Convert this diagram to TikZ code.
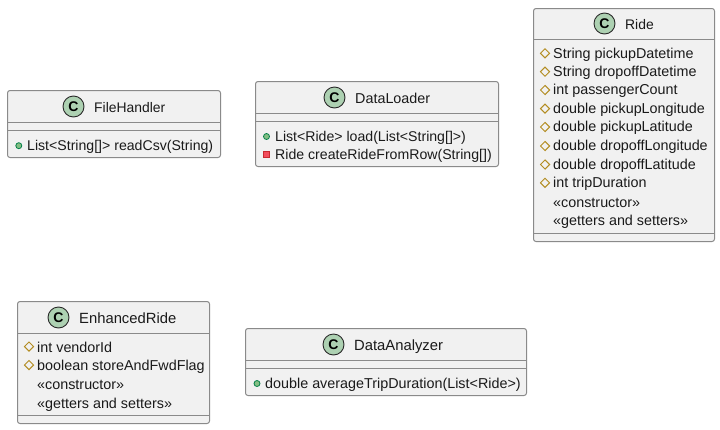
\documentclass[tikz,border=0pt]{standalone}
\usepackage{fontspec}
\setmainfont{Liberation Sans}
\definecolor{boxfill}{HTML}{F1F1F1}
\definecolor{boxline}{HTML}{8A8A8A}
\definecolor{spotfill}{HTML}{ADD1B2}
\definecolor{spotline}{HTML}{2B2B2B}
\definecolor{pubc}{HTML}{84BE84}
\definecolor{publ}{HTML}{038048}
\definecolor{protl}{HTML}{B38D22}
\definecolor{privc}{HTML}{F24D5C}
\definecolor{privl}{HTML}{C82930}
\definecolor{ink}{HTML}{1A1A1A}
\usetikzlibrary{shapes.geometric}
\tikzset{
  x=1pt,y=-1pt,
  classbox/.style={draw=boxline,fill=boxfill,line width=1pt,rounded corners=2.5pt},
  divider/.style={draw=boxline,line width=1pt},
  spot/.style={circle,draw=spotline,fill=spotfill,line width=.9pt,minimum size=21pt,inner sep=0pt,font=\fontsize{14}{14}\selectfont\bfseries},
  title/.style={anchor=base west,inner sep=0pt,font=\fontsize{14.8}{15}\selectfont,text=ink},
  midtitle/.style={anchor=base west,inner sep=0pt,font=\fontsize{14.35}{15}\selectfont,text=ink},
  shorttitle/.style={anchor=base west,inner sep=0pt,font=\fontsize{13.9}{15}\selectfont,text=ink},
  member/.style={anchor=base west,inner sep=0pt,font=\fontsize{14.35}{15}\selectfont,text=ink},
  tightmember/.style={anchor=base west,inner sep=0pt,font=\fontsize{14.12}{15}\selectfont,text=ink},
  pubdot/.style={circle,draw=publ,fill=pubc,line width=.8pt,minimum size=6pt,inner sep=0pt},
  protdia/.style={diamond,draw=protl,fill=none,line width=1pt,minimum size=9.5pt,inner sep=0pt},
  privsq/.style={rectangle,draw=privl,fill=privc,line width=.8pt,minimum size=6pt,inner sep=0pt},
}
\newcommand{\classframe}[6]{% x1 y1 x2 y2 head line2
  \path[classbox] (#1,#2) rectangle (#3,#4);
  \path[divider] (#1,#5) -- (#3,#5);
  \path[divider] (#1,#6) -- (#3,#6);
}
\begin{document}
\begin{tikzpicture}
\useasboundingbox (0,0) rectangle (720,429);
\fill[white] (0,0) rectangle (720,429);

% FileHandler
\classframe{7.5}{90.5}{220.5}{157.5}{122.5}{130.5}
\node[spot] (fhs) at (73.5,106.5) {C};
\node[shorttitle] (fht) at (94,112) {FileHandler};
\node[pubdot] (fhd1) at (18.8,145.7) {};
\node[tightmember] (fhm1) at (27,150.5) {List<String[]> readCsv(String)};

% DataLoader
\classframe{255.5}{81.5}{498.5}{166.5}{113.5}{121.5}
\node[spot] (dls) at (334.5,97.5) {C};
\node[midtitle] (dlt) at (355,103) {DataLoader};
\node[pubdot] (dld1) at (266.5,136.5) {};
\node[tightmember] (dlm1) at (275,141.5) {List<Ride> load(List<String[]>)};
\node[privsq] (dld2) at (266.3,154.4) {};
\node[tightmember] (dlm2) at (275,159.5) {Ride createRideFromRow(String[])};

% Ride
\classframe{533.5}{8.5}{714.5}{241.5}{39.5}{233.5}
\node[spot] (ris) at (604.5,23.5) {C};
\node[shorttitle] (rit) at (625,29) {Ride};
\foreach \y/\t in {53.3/String pickupDatetime,71.7/String dropoffDatetime,90/int passengerCount,108.6/double pickupLongitude,127/double pickupLatitude,146/double dropoffLongitude,164.5/double dropoffLatitude,182.8/int tripDuration}{
  \node[protdia] at (545,\y) {};
  \node[member] at (553,\y+4.8) {\t};
}
\node[member] (rim1) at (553,207.3) {«constructor»};
\node[member] (rim2) at (553,225.8) {«getters and setters»};

% EnhancedRide
\classframe{17.5}{301.5}{209.5}{423.5}{333.5}{415.5}
\node[spot] (ers) at (58.5,317.5) {C};
\node[title] (ert) at (79,323) {EnhancedRide};
\node[protdia] (erd1) at (29,346.5) {};
\node[member] (erm1) at (37,352) {int vendorId};
\node[protdia] (erd2) at (29,365) {};
\node[member] (erm2) at (37,370.5) {boolean storeAndFwdFlag};
\node[member] (erm3) at (37,389) {«constructor»};
\node[member] (erm4) at (37,408) {«getters and setters»};

% DataAnalyzer
\classframe{245.5}{328.5}{526.5}{395.5}{360.5}{368.5}
\node[spot] (das) at (333.5,344.5) {C};
\node[title] (dat) at (354,350) {DataAnalyzer};
\node[pubdot] (dad1) at (257,383.5) {};
\node[member] (dam1) at (265,388.5) {double averageTripDuration(List<Ride>)};
\end{tikzpicture}
\end{document}
